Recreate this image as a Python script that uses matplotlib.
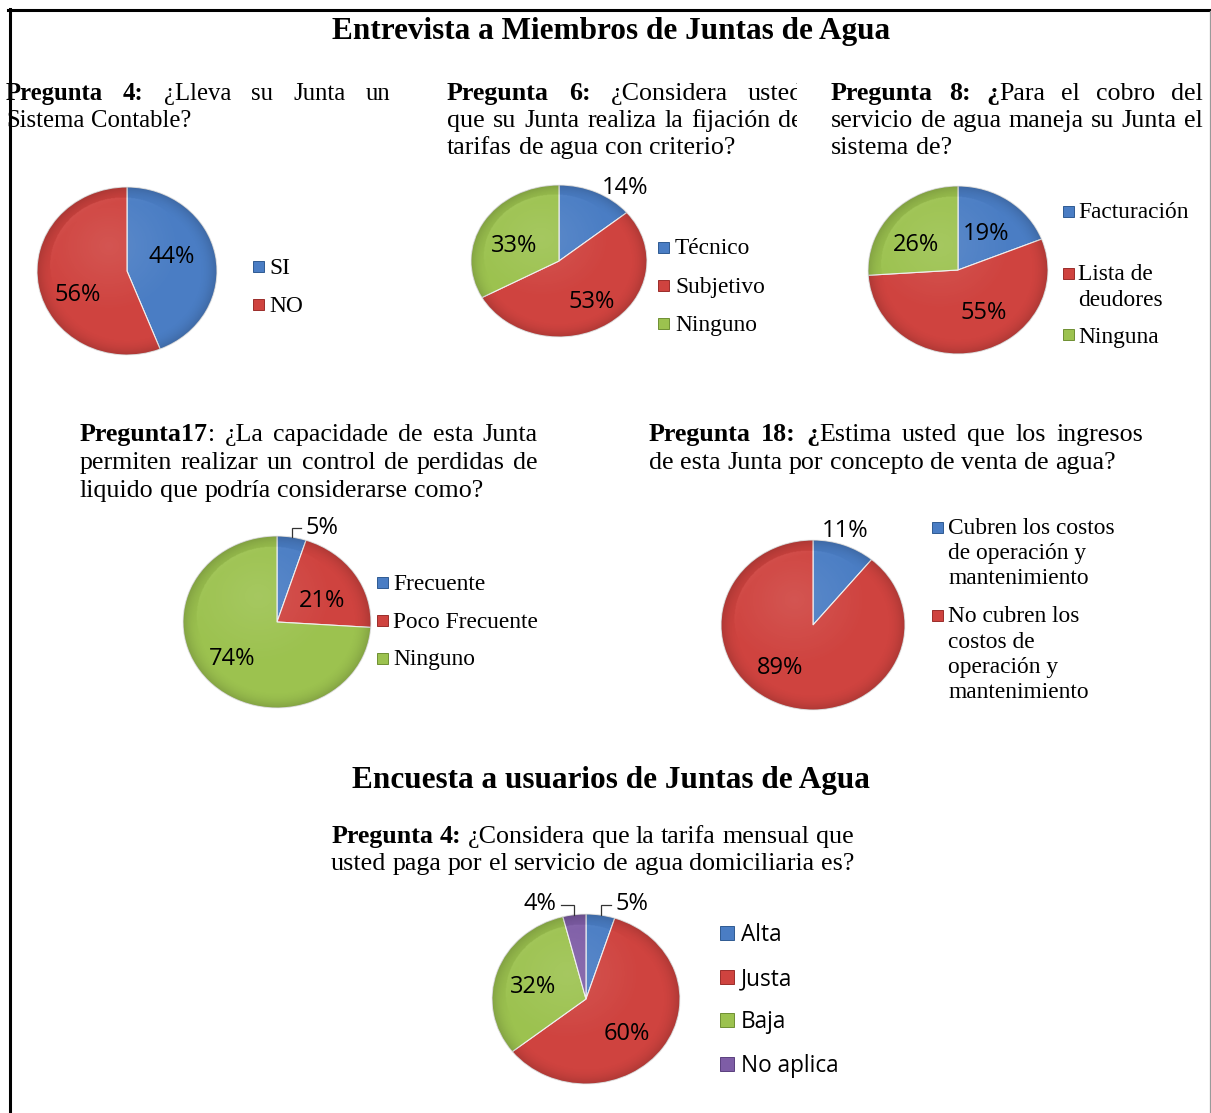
import matplotlib
matplotlib.use('Agg')
import matplotlib.pyplot as plt
from matplotlib.patches import Rectangle, Circle
from matplotlib.lines import Line2D
from matplotlib.transforms import Bbox, TransformedBbox
import numpy as np

W, H, DPI = 1211, 1113, 100

# ---------------- data ----------------
q4_labels = ['SI', 'NO']
q4_values = [44, 56]
q6_labels = ['Técnico', 'Subjetivo', 'Ninguno']
q6_values = [14, 53, 33]
q8_labels = ['Facturación', 'Lista de\ndeudores', 'Ninguna']
q8_values = [19, 55, 26]
q17_labels = ['Frecuente', 'Poco Frecuente', 'Ninguno']
q17_values = [5, 21, 74]
q18_labels = ['Cubren los costos\nde operación y\nmantenimiento',
              'No cubren los\ncostos de\noperación y\nmantenimiento']
q18_values = [11, 89]
u4_labels = ['Alta', 'Justa', 'Baja', 'No aplica']
u4_values = [5, 60, 32, 4]

title1 = 'Entrevista a Miembros de Juntas de Agua'
title2 = 'Encuesta a usuarios de Juntas de Agua'
q4_text = ['**Pregunta 4:** ¿Lleva su Junta un', 'Sistema Contable?']
q6_text = ['**Pregunta 6:** ¿Considera usted', 'que su Junta realiza la fijación de',
           'tarifas de agua con criterio?']
q8_text = ['**Pregunta 8: ¿**Para el cobro del', 'servicio de agua maneja su Junta el',
           'sistema de?']
q17_text = ['**Pregunta17**: ¿La capacidade de esta Junta',
            'permiten realizar un control de perdidas de',
            'liquido que podría considerarse como?']
q18_text = ['**Pregunta 18: ¿**Estima usted que los ingresos',
            'de esta Junta por concepto de venta de agua?']
u4_text = ['**Pregunta  4:** ¿Considera que la tarifa mensual que',
           'usted paga por el servicio de agua domiciliaria es?']

# ---------------- style ----------------
BLUE, RED, GREEN, PURPLE = '#4A7DC4', '#CF433F', '#9CC24F', '#7E5DA6'
EDGE = {BLUE: '#2F5A92', RED: '#9A2D2A', GREEN: '#6F8F33', PURPLE: '#5A3F7E'}
SERIF = 'Liberation Serif'
SANS = 'Open Sans'
Q_SIZE = 18.7
LEG_SIZE = 16.8
PCT_SIZE = 17.0
TITLE_SIZE = 22.5

fig = plt.figure(figsize=(W / DPI, H / DPI), dpi=DPI)
renderer = fig.canvas.get_renderer()


def fx(x):
    return x / W


def fy(y):
    return 1 - y / H


def parse(line):
    words, bold = [], False
    for w in line.split(' '):
        if not w:
            continue
        segs = []
        parts = w.split('**')
        for k, p in enumerate(parts):
            if k > 0:
                bold = not bold
            if p:
                segs.append((p, bold))
        words.append(segs)
    return words


def twidth(s, bold, size):
    t = fig.text(0, 0, s, fontsize=size, family=SERIF,
                 fontweight='bold' if bold else 'normal')
    w = t.get_window_extent(renderer).width
    t.remove()
    return w


def paragraph(lines, x0, x1, y0, step, modes, size=Q_SIZE, clip=None):
    space = twidth('x x', False, size) - twidth('xx', False, size)
    for i, (line, mode) in enumerate(zip(lines, modes)):
        words = parse(line)
        wws = [[twidth(s, b, size) for s, b in wd] for wd in words]
        tot = sum(sum(w) for w in wws)
        if mode == 'j' and len(words) > 1:
            gap = (x1 - x0 - tot) / (len(words) - 1)
            x = x0
        else:
            gap = space
            full = tot + gap * (len(words) - 1)
            x = x0 if mode == 'l' else (x0 + x1) / 2 - full / 2
        base = y0 + i * step
        for wd, ww in zip(words, wws):
            for (s, b), w in zip(wd, ww):
                t = fig.text(fx(x), fy(base), s, fontsize=size, family=SERIF,
                             fontweight='bold' if b else 'normal',
                             ha='left', va='baseline')
                if clip is not None:
                    t.set_clip_box(TransformedBbox(
                        Bbox([[fx(clip[0]), 0], [fx(clip[1]), 1]]), fig.transFigure))
                    t.set_clip_on(True)
                x += w
            x += gap


# subtle shading overlay (rim darkening + soft highlight) to mimic the 3-D look
_g = np.linspace(-1, 1, 300)
_X, _Y = np.meshgrid(_g, _g)
_R = np.sqrt(_X ** 2 + _Y ** 2)
_shade = np.zeros((300, 300, 4))
_dark = 0.16 * np.clip((_R - 0.8) / 0.2, 0, 1) ** 2
_light = 0.10 * np.clip(1 - np.sqrt((_X + 0.2) ** 2 + (_Y - 0.3) ** 2) / 0.8, 0, 1)
_alpha = np.clip(_dark + _light, 0, 1)
_shade[..., :3] = np.where((_dark > _light)[..., None], 0.0, 1.0)
_shade[..., 3] = _alpha


def draw_pie(cx, cy, rx, ry, values, colors, lab_r, lab_da, leaders=()):
    ax = fig.add_axes([fx(cx - rx), fy(cy + ry), 2 * rx / W, 2 * ry / H])
    wedges, _ = ax.pie(values, colors=colors, startangle=90, counterclock=False,
                       wedgeprops=dict(edgecolor='#f0f0f0', linewidth=0.8))
    ax.set_aspect('auto')
    ax.set_xlim(-1, 1)
    ax.set_ylim(-1, 1)
    ax.axis('off')
    im = ax.imshow(_shade, extent=(-1, 1, -1, 1), origin='lower', aspect='auto',
                   zorder=3, interpolation='bilinear')
    im.set_clip_path(Circle((0, 0), 1.0, transform=ax.transData))
    for i, (w, v, r, da) in enumerate(zip(wedges, values, lab_r, lab_da)):
        w.set_clip_on(False)
        mid = np.deg2rad((w.theta1 + w.theta2) / 2)
        lm = mid + np.deg2rad(da)
        lx, ly = r * np.cos(lm), r * np.sin(lm)
        ax.text(lx, ly, f'{v}%', ha='center', va='center_baseline',
                fontsize=PCT_SIZE, family=SANS, color='black', zorder=5)
        if i in leaders:
            ex, ey = np.cos(mid), np.sin(mid)
            side = 1 if lx > ex else -1
            yl = ly - 0.04
            ax.plot([ex, ex, lx - side * 0.22], [ey, yl, yl],
                    color='#333333', lw=0.9, clip_on=False,
                    solid_joinstyle='miter', zorder=5)
    return ax


def legend(xm, xt, ys, labels, colors, family, size, msize, lstep, dy):
    for y, lab, c in zip(ys, labels, colors):
        fig.patches.append(Rectangle((fx(xm), fy(y + msize / 2)), msize / W, msize / H,
                                     transform=fig.transFigure, facecolor=c,
                                     edgecolor=EDGE[c], lw=0.7))
        for k, ln in enumerate(lab.split('\n')):
            fig.text(fx(xt), fy(y + k * lstep + dy), ln, ha='left', va='baseline',
                     fontsize=size, family=family)


# ---------------- titles & questions ----------------
fig.text(fx(611), fy(39), title1, ha='center', va='baseline', fontsize=TITLE_SIZE,
         family=SERIF, fontweight='bold')
fig.text(fx(611), fy(788), title2, ha='center', va='baseline', fontsize=TITLE_SIZE,
         family=SERIF, fontweight='bold')

paragraph(q4_text, 6, 390, 100, 27, ['j', 'l'], size=17.8)
paragraph(q6_text, 447, 803, 100, 27, ['j', 'j', 'l'], clip=(0, 797))
paragraph(q8_text, 831, 1203, 100, 27, ['j', 'j', 'l'])
paragraph(q17_text, 80, 538, 441, 28, ['j', 'j', 'l'])
paragraph(q18_text, 649, 1143, 441, 28, ['j', 'l'])
paragraph(u4_text, 330, 855, 843, 27, ['c', 'c'])

# ---------------- pies ----------------
draw_pie(127, 271, 90, 84, q4_values, [BLUE, RED], [0.53, 0.6], [11, 14])
legend(253, 269, [266, 304], q4_labels, [BLUE, RED], SERIF, LEG_SIZE, 11, 25, 7.5)

draw_pie(559, 261, 88, 76, q6_values, [BLUE, RED, GREEN], [1.25, 0.62, 0.56], [-12, 3, 6])
legend(658, 675, [247, 285, 323], q6_labels, [BLUE, RED, GREEN], SERIF, LEG_SIZE, 11, 25, 7.5)

draw_pie(958, 270, 90, 84, q8_values, [BLUE, RED, GREEN], [0.56, 0.56, 0.57], [0, 18, 8])
legend(1063, 1078, [211, 273, 335], q8_labels, [BLUE, RED, GREEN], SERIF, LEG_SIZE, 11, 25, 7.5)

draw_pie(277, 622, 94, 86, q17_values, [BLUE, RED, GREEN], [1.23, 0.56, 0.62], [-14, -4, -3],
         leaders=(0,))
legend(377, 393, [582, 620, 658], q17_labels, [BLUE, RED, GREEN], SERIF, LEG_SIZE, 11, 25, 7.5)

draw_pie(813, 625, 92, 85, q18_values, [BLUE, RED], [1.19, 0.59], [3, -17])
legend(932, 948, [527, 615], q18_labels, [BLUE, RED], SERIF, LEG_SIZE, 11, 25, 7.5)

draw_pie(586, 999, 94, 85, u4_values, [BLUE, RED, GREEN, PURPLE],
         [1.25, 0.58, 0.59, 1.25], [-14, -6, 1, 16], leaders=(0, 3))
legend(720, 741, [933, 977, 1020, 1064], u4_labels, [BLUE, RED, GREEN, PURPLE],
       SANS, 16.3, 14, 25, 8)

# ---------------- frame ----------------
fig.add_artist(Line2D([fx(8), fx(1211)], [fy(10), fy(10)], transform=fig.transFigure,
                      color='black', lw=2.2, zorder=20))
fig.add_artist(Line2D([fx(9.5), fx(9.5)], [fy(9), fy(1113)], transform=fig.transFigure,
                      color='black', lw=2.2, zorder=20))
fig.add_artist(Line2D([fx(1209.5), fx(1209.5)], [fy(11), fy(1113)], transform=fig.transFigure,
                      color='#9a9a9a', lw=0.9, zorder=20))

fig.savefig('out.png', dpi=DPI, facecolor='white')
